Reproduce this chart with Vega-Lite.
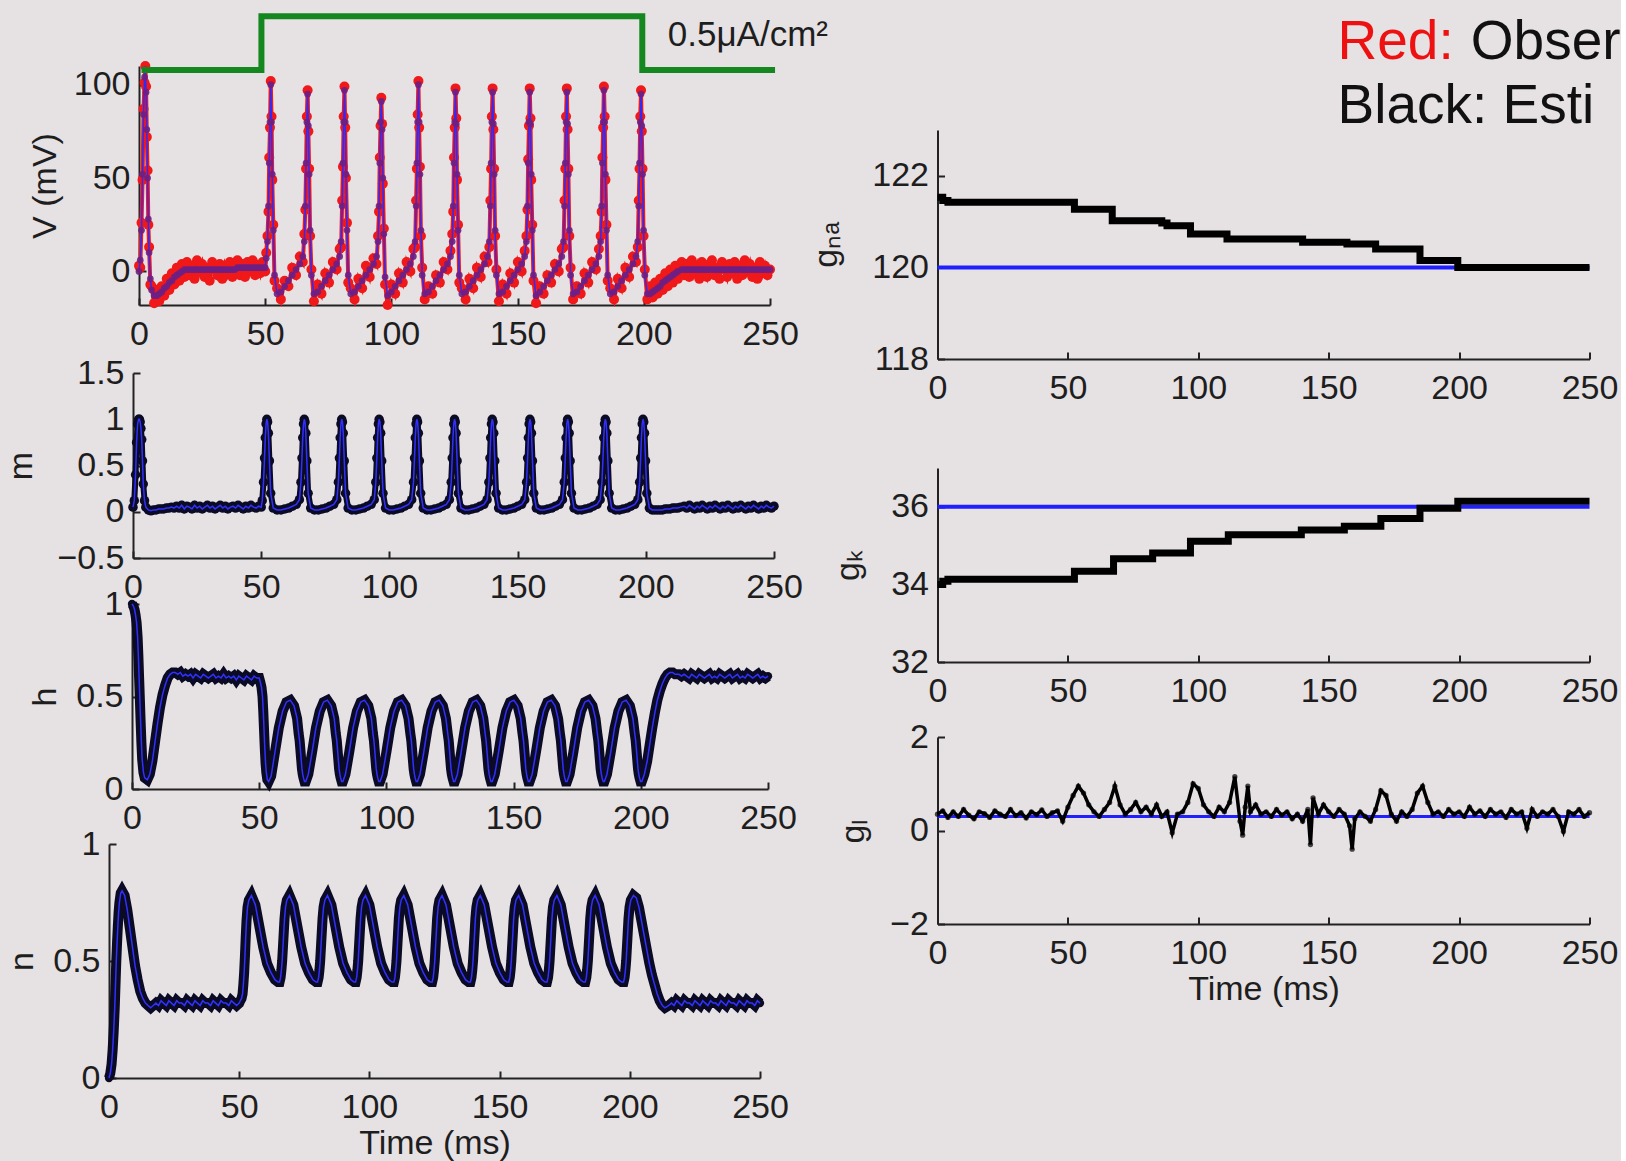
{
"$schema":"https://vega.github.io/schema/vega-lite/v6.json",
"background":"#e6e1e3",
"padding":{"left":4,"top":4,"right":0,"bottom":5},
"config":{"view":{"stroke":null},"font":"Liberation Sans",
"axis":{"grid":false,"domainColor":"#222","domainWidth":2,"tickColor":"#222","tickWidth":2,"tickSize":-7,"labelColor":"#1e1e1e","labelFontSize":34,"labelFont":"Liberation Sans","titleFont":"Liberation Sans","titleFontSize":34,"titleFontWeight":"normal","titleColor":"#1e1e1e","labelFlush":false,"labelOverlap":false},
"axisY":{"labelPadding":16},"axisX":{"labelPadding":19}},
"datasets":{
"d":[
{"t":0,"v":0,"o":3,"m":0.05,"h":1,"n":0},
{"t":0.5,"v":6,"o":2,"m":0.12,"h":0.99,"n":0.02},
{"t":1,"v":22,"o":26,"m":0.4,"h":0.97,"n":0.06},
{"t":1.4,"v":52,"o":49,"m":0.75,"h":0.94,"n":0.12},
{"t":1.8,"v":84,"o":87,"m":0.95,"h":0.9,"n":0.2},
{"t":2.2,"v":104,"o":101,"m":1,"h":0.82,"n":0.3},
{"t":2.5,"v":108,"o":110,"m":1,"h":0.72,"n":0.4},
{"t":2.8,"v":96,"o":99,"m":0.97,"h":0.6,"n":0.5},
{"t":3.1,"v":76,"o":72,"m":0.9,"h":0.48,"n":0.58},
{"t":3.4,"v":50,"o":54,"m":0.78,"h":0.36,"n":0.65},
{"t":3.7,"v":28,"o":25,"m":0.55,"h":0.25,"n":0.71},
{"t":4,"v":10,"o":13,"m":0.3,"h":0.16,"n":0.75},
{"t":4.5,"v":-4,"o":-7,"m":0.12,"h":0.09,"n":0.79},
{"t":5,"v":-10,"o":-8,"m":0.05,"h":0.06,"n":0.8},
{"t":6,"v":-13,"o":-17,"m":0.02,"h":0.05,"n":0.78},
{"t":7,"v":-13,"o":-10,"m":0.01,"h":0.08,"n":0.72},
{"t":8,"v":-12,"o":-16,"m":0.02,"h":0.15,"n":0.64},
{"t":9,"v":-11,"o":-8,"m":0.02,"h":0.25,"n":0.56},
{"t":10,"v":-9,"o":-13,"m":0.03,"h":0.35,"n":0.48},
{"t":11,"v":-8,"o":-4,"m":0.03,"h":0.44,"n":0.42},
{"t":12,"v":-6,"o":-10,"m":0.03,"h":0.51,"n":0.37},
{"t":13,"v":-5,"o":-1,"m":0.04,"h":0.56,"n":0.34},
{"t":14,"v":-3,"o":-7,"m":0.04,"h":0.6,"n":0.32},
{"t":15,"v":-2,"o":2,"m":0.05,"h":0.62,"n":0.31},
{"t":16,"v":-1,"o":-5,"m":0.04,"h":0.63,"n":0.3},
{"t":17,"v":0,"o":4,"m":0.06,"h":0.63,"n":0.31},
{"t":18,"v":1,"o":-3,"m":0.04,"h":0.62,"n":0.32},
{"t":19,"v":1,"o":5,"m":0.07,"h":0.63,"n":0.31},
{"t":20,"v":1,"o":-2,"m":0.03,"h":0.61,"n":0.33},
{"t":21,"v":1,"o":3,"m":0.06,"h":0.62,"n":0.32},
{"t":22,"v":1,"o":-4,"m":0.05,"h":0.61,"n":0.31},
{"t":23,"v":1,"o":6,"m":0.03,"h":0.62,"n":0.33},
{"t":24,"v":1,"o":0,"m":0.07,"h":0.6,"n":0.32},
{"t":25,"v":1,"o":4,"m":0.04,"h":0.62,"n":0.31},
{"t":26,"v":1,"o":-3,"m":0.06,"h":0.61,"n":0.33},
{"t":27,"v":1,"o":2,"m":0.03,"h":0.6,"n":0.32},
{"t":28,"v":1,"o":-5,"m":0.05,"h":0.62,"n":0.32},
{"t":29,"v":1,"o":5,"m":0.07,"h":0.61,"n":0.31},
{"t":30,"v":1,"o":1,"m":0.04,"h":0.6,"n":0.33},
{"t":31,"v":1,"o":-2,"m":0.06,"h":0.61,"n":0.32},
{"t":32,"v":1,"o":4,"m":0.03,"h":0.62,"n":0.31},
{"t":33,"v":1,"o":-4,"m":0.05,"h":0.6,"n":0.33},
{"t":34,"v":1,"o":3,"m":0.07,"h":0.61,"n":0.32},
{"t":35,"v":1,"o":-1,"m":0.04,"h":0.6,"n":0.31},
{"t":36,"v":1,"o":5,"m":0.06,"h":0.62,"n":0.33},
{"t":37,"v":1,"o":-3,"m":0.03,"h":0.6,"n":0.32},
{"t":38,"v":1,"o":2,"m":0.05,"h":0.61,"n":0.32},
{"t":39,"v":2,"o":6,"m":0.06,"h":0.6,"n":0.31},
{"t":40,"v":2,"o":-2,"m":0.04,"h":0.61,"n":0.33},
{"t":41,"v":2,"o":4,"m":0.07,"h":0.59,"n":0.32},
{"t":42,"v":2,"o":-3,"m":0.05,"h":0.61,"n":0.31},
{"t":43,"v":2,"o":5,"m":0.03,"h":0.6,"n":0.33},
{"t":44,"v":2,"o":0,"m":0.06,"h":0.59,"n":0.32},
{"t":45,"v":2,"o":6,"m":0.04,"h":0.61,"n":0.32},
{"t":46,"v":2,"o":-2,"m":0.07,"h":0.6,"n":0.31},
{"t":47,"v":2,"o":3,"m":0.05,"h":0.59,"n":0.33},
{"t":48,"v":2,"o":-1,"m":0.04,"h":0.61,"n":0.32},
{"t":49,"v":2,"o":5,"m":0.06,"h":0.6,"n":0.31},
{"t":50,"v":2,"o":0,"m":0.05,"h":0.6,"n":0.32},
{"t":50.4,"v":7,"o":10,"m":0.12,"h":0.58,"n":0.33},
{"t":50.9,"v":16,"o":19,"m":0.32,"h":0.55,"n":0.34},
{"t":51.3,"v":35,"o":32,"m":0.58,"h":0.5,"n":0.36},
{"t":51.6,"v":58,"o":61,"m":0.8,"h":0.42,"n":0.4},
{"t":51.9,"v":80,"o":77,"m":0.95,"h":0.32,"n":0.45},
{"t":52.2,"v":100,"o":102,"m":1,"h":0.22,"n":0.52},
{"t":52.5,"v":80,"o":83,"m":0.97,"h":0.14,"n":0.6},
{"t":52.8,"v":52,"o":49,"m":0.85,"h":0.09,"n":0.67},
{"t":53.2,"v":22,"o":25,"m":0.55,"h":0.05,"n":0.73},
{"t":53.7,"v":-2,"o":-5,"m":0.2,"h":0.04,"n":0.76},
{"t":54.7,"v":-12,"o":-9,"m":0.04,"h":0.07,"n":0.78},
{"t":56.2,"v":-11,"o":-15,"m":0.02,"h":0.2,"n":0.74},
{"t":57.7,"v":-8,"o":-5,"m":0.02,"h":0.33,"n":0.65},
{"t":59.2,"v":-5,"o":-8,"m":0.03,"h":0.42,"n":0.56},
{"t":60.7,"v":-2,"o":2,"m":0.04,"h":0.47,"n":0.49},
{"t":62.2,"v":1,"o":-2,"m":0.06,"h":0.48,"n":0.45},
{"t":63.7,"v":4,"o":8,"m":0.08,"h":0.45,"n":0.42},
{"t":64.9,"v":8,"o":5,"m":0.13,"h":0.38,"n":0.41},
{"t":65.5,"v":16,"o":20,"m":0.32,"h":0.3,"n":0.41},
{"t":65.9,"v":35,"o":33,"m":0.58,"h":0.26,"n":0.43},
{"t":66.2,"v":58,"o":55,"m":0.8,"h":0.21,"n":0.46},
{"t":66.5,"v":80,"o":83,"m":0.95,"h":0.16,"n":0.5},
{"t":66.8,"v":95,"o":97,"m":1,"h":0.11,"n":0.56},
{"t":67.1,"v":78,"o":75,"m":0.97,"h":0.08,"n":0.62},
{"t":67.4,"v":52,"o":55,"m":0.85,"h":0.06,"n":0.68},
{"t":67.8,"v":22,"o":19,"m":0.55,"h":0.04,"n":0.73},
{"t":68.3,"v":-2,"o":1,"m":0.2,"h":0.04,"n":0.76},
{"t":69.3,"v":-12,"o":-16,"m":0.04,"h":0.08,"n":0.78},
{"t":70.8,"v":-11,"o":-7,"m":0.02,"h":0.2,"n":0.74},
{"t":72.3,"v":-8,"o":-12,"m":0.02,"h":0.33,"n":0.65},
{"t":73.8,"v":-5,"o":-1,"m":0.03,"h":0.42,"n":0.56},
{"t":75.3,"v":-2,"o":-6,"m":0.04,"h":0.47,"n":0.49},
{"t":76.8,"v":1,"o":5,"m":0.06,"h":0.48,"n":0.45},
{"t":78.3,"v":4,"o":1,"m":0.08,"h":0.45,"n":0.42},
{"t":79.5,"v":8,"o":12,"m":0.13,"h":0.38,"n":0.41},
{"t":80.1,"v":16,"o":13,"m":0.32,"h":0.3,"n":0.41},
{"t":80.5,"v":35,"o":38,"m":0.58,"h":0.26,"n":0.43},
{"t":80.8,"v":58,"o":56,"m":0.8,"h":0.21,"n":0.46},
{"t":81.1,"v":80,"o":83,"m":0.95,"h":0.16,"n":0.5},
{"t":81.4,"v":97,"o":99,"m":1,"h":0.11,"n":0.56},
{"t":81.7,"v":80,"o":77,"m":0.97,"h":0.08,"n":0.62},
{"t":82,"v":52,"o":50,"m":0.85,"h":0.06,"n":0.68},
{"t":82.4,"v":22,"o":26,"m":0.55,"h":0.04,"n":0.73},
{"t":82.9,"v":-2,"o":-6,"m":0.2,"h":0.04,"n":0.76},
{"t":83.9,"v":-12,"o":-9,"m":0.04,"h":0.08,"n":0.78},
{"t":85.4,"v":-11,"o":-15,"m":0.02,"h":0.2,"n":0.74},
{"t":86.9,"v":-8,"o":-4,"m":0.02,"h":0.33,"n":0.65},
{"t":88.4,"v":-5,"o":-9,"m":0.03,"h":0.42,"n":0.56},
{"t":89.9,"v":-2,"o":3,"m":0.04,"h":0.47,"n":0.49},
{"t":91.4,"v":1,"o":-3,"m":0.06,"h":0.48,"n":0.45},
{"t":92.9,"v":4,"o":7,"m":0.08,"h":0.45,"n":0.42},
{"t":94.1,"v":8,"o":4,"m":0.13,"h":0.38,"n":0.41},
{"t":94.7,"v":16,"o":19,"m":0.32,"h":0.3,"n":0.41},
{"t":95.1,"v":35,"o":32,"m":0.58,"h":0.26,"n":0.43},
{"t":95.4,"v":58,"o":61,"m":0.8,"h":0.21,"n":0.46},
{"t":95.7,"v":80,"o":78,"m":0.95,"h":0.16,"n":0.5},
{"t":96,"v":91,"o":93,"m":1,"h":0.11,"n":0.56},
{"t":96.3,"v":76,"o":79,"m":0.97,"h":0.08,"n":0.62},
{"t":96.6,"v":50,"o":47,"m":0.85,"h":0.06,"n":0.68},
{"t":97,"v":20,"o":23,"m":0.55,"h":0.04,"n":0.73},
{"t":97.5,"v":-3,"o":-7,"m":0.2,"h":0.04,"n":0.76},
{"t":98.5,"v":-13,"o":-18,"m":0.04,"h":0.08,"n":0.78},
{"t":100,"v":-11,"o":-7,"m":0.02,"h":0.2,"n":0.74},
{"t":101.5,"v":-8,"o":-12,"m":0.02,"h":0.33,"n":0.65},
{"t":103,"v":-5,"o":-1,"m":0.03,"h":0.42,"n":0.56},
{"t":104.5,"v":-2,"o":-6,"m":0.04,"h":0.47,"n":0.49},
{"t":106,"v":1,"o":5,"m":0.06,"h":0.48,"n":0.45},
{"t":107.5,"v":4,"o":0,"m":0.08,"h":0.45,"n":0.42},
{"t":108.7,"v":8,"o":12,"m":0.13,"h":0.38,"n":0.41},
{"t":109.4,"v":16,"o":13,"m":0.32,"h":0.3,"n":0.41},
{"t":109.8,"v":35,"o":38,"m":0.58,"h":0.26,"n":0.43},
{"t":110.1,"v":58,"o":55,"m":0.8,"h":0.21,"n":0.46},
{"t":110.4,"v":80,"o":84,"m":0.95,"h":0.16,"n":0.5},
{"t":110.7,"v":100,"o":102,"m":1,"h":0.11,"n":0.56},
{"t":111,"v":80,"o":77,"m":0.97,"h":0.08,"n":0.62},
{"t":111.3,"v":52,"o":56,"m":0.85,"h":0.06,"n":0.68},
{"t":111.7,"v":22,"o":19,"m":0.55,"h":0.04,"n":0.73},
{"t":112.2,"v":-2,"o":2,"m":0.2,"h":0.04,"n":0.76},
{"t":113.2,"v":-12,"o":-15,"m":0.04,"h":0.08,"n":0.78},
{"t":114.7,"v":-11,"o":-8,"m":0.02,"h":0.2,"n":0.74},
{"t":116.2,"v":-8,"o":-12,"m":0.02,"h":0.33,"n":0.65},
{"t":117.7,"v":-5,"o":-2,"m":0.03,"h":0.42,"n":0.56},
{"t":119.2,"v":-2,"o":-6,"m":0.04,"h":0.47,"n":0.49},
{"t":120.7,"v":1,"o":5,"m":0.06,"h":0.48,"n":0.45},
{"t":122.2,"v":4,"o":1,"m":0.08,"h":0.45,"n":0.42},
{"t":123.4,"v":8,"o":11,"m":0.13,"h":0.38,"n":0.41},
{"t":124.1,"v":16,"o":20,"m":0.32,"h":0.3,"n":0.41},
{"t":124.5,"v":35,"o":32,"m":0.58,"h":0.26,"n":0.43},
{"t":124.8,"v":58,"o":61,"m":0.8,"h":0.21,"n":0.46},
{"t":125.1,"v":80,"o":77,"m":0.95,"h":0.16,"n":0.5},
{"t":125.4,"v":96,"o":98,"m":1,"h":0.11,"n":0.56},
{"t":125.7,"v":79,"o":82,"m":0.97,"h":0.08,"n":0.62},
{"t":126,"v":52,"o":49,"m":0.85,"h":0.06,"n":0.68},
{"t":126.4,"v":22,"o":25,"m":0.55,"h":0.04,"n":0.73},
{"t":126.9,"v":-2,"o":-6,"m":0.2,"h":0.04,"n":0.76},
{"t":127.9,"v":-12,"o":-9,"m":0.04,"h":0.08,"n":0.78},
{"t":129.4,"v":-11,"o":-15,"m":0.02,"h":0.2,"n":0.74},
{"t":130.9,"v":-8,"o":-4,"m":0.02,"h":0.33,"n":0.65},
{"t":132.4,"v":-5,"o":-9,"m":0.03,"h":0.42,"n":0.56},
{"t":133.9,"v":-2,"o":2,"m":0.04,"h":0.47,"n":0.49},
{"t":135.4,"v":1,"o":-3,"m":0.06,"h":0.48,"n":0.45},
{"t":136.9,"v":4,"o":8,"m":0.08,"h":0.45,"n":0.42},
{"t":138.1,"v":8,"o":5,"m":0.13,"h":0.38,"n":0.41},
{"t":138.8,"v":16,"o":13,"m":0.32,"h":0.3,"n":0.41},
{"t":139.2,"v":35,"o":38,"m":0.58,"h":0.26,"n":0.43},
{"t":139.5,"v":58,"o":55,"m":0.8,"h":0.21,"n":0.46},
{"t":139.8,"v":80,"o":83,"m":0.95,"h":0.16,"n":0.5},
{"t":140.1,"v":96,"o":98,"m":1,"h":0.11,"n":0.56},
{"t":140.4,"v":79,"o":76,"m":0.97,"h":0.08,"n":0.62},
{"t":140.7,"v":52,"o":55,"m":0.85,"h":0.06,"n":0.68},
{"t":141.1,"v":22,"o":19,"m":0.55,"h":0.04,"n":0.73},
{"t":141.6,"v":-2,"o":1,"m":0.2,"h":0.04,"n":0.76},
{"t":142.6,"v":-12,"o":-16,"m":0.04,"h":0.08,"n":0.78},
{"t":144.1,"v":-11,"o":-7,"m":0.02,"h":0.2,"n":0.74},
{"t":145.6,"v":-8,"o":-12,"m":0.02,"h":0.33,"n":0.65},
{"t":147.1,"v":-5,"o":-1,"m":0.03,"h":0.42,"n":0.56},
{"t":148.6,"v":-2,"o":-6,"m":0.04,"h":0.47,"n":0.49},
{"t":150.1,"v":1,"o":5,"m":0.06,"h":0.48,"n":0.45},
{"t":151.6,"v":4,"o":0,"m":0.08,"h":0.45,"n":0.42},
{"t":152.8,"v":8,"o":11,"m":0.13,"h":0.38,"n":0.41},
{"t":153.5,"v":16,"o":19,"m":0.32,"h":0.3,"n":0.41},
{"t":153.9,"v":35,"o":33,"m":0.58,"h":0.26,"n":0.43},
{"t":154.2,"v":58,"o":60,"m":0.8,"h":0.21,"n":0.46},
{"t":154.5,"v":80,"o":78,"m":0.95,"h":0.16,"n":0.5},
{"t":154.8,"v":96,"o":98,"m":1,"h":0.11,"n":0.56},
{"t":155.1,"v":79,"o":82,"m":0.97,"h":0.08,"n":0.62},
{"t":155.4,"v":52,"o":49,"m":0.85,"h":0.06,"n":0.68},
{"t":155.8,"v":22,"o":25,"m":0.55,"h":0.04,"n":0.73},
{"t":156.3,"v":-2,"o":-5,"m":0.2,"h":0.04,"n":0.76},
{"t":157.3,"v":-13,"o":-17,"m":0.04,"h":0.08,"n":0.78},
{"t":158.8,"v":-11,"o":-8,"m":0.02,"h":0.2,"n":0.74},
{"t":160.3,"v":-8,"o":-12,"m":0.02,"h":0.33,"n":0.65},
{"t":161.8,"v":-5,"o":-2,"m":0.03,"h":0.42,"n":0.56},
{"t":163.3,"v":-2,"o":-6,"m":0.04,"h":0.47,"n":0.49},
{"t":164.8,"v":1,"o":4,"m":0.06,"h":0.48,"n":0.45},
{"t":166.3,"v":4,"o":0,"m":0.08,"h":0.45,"n":0.42},
{"t":167.5,"v":8,"o":12,"m":0.13,"h":0.38,"n":0.41},
{"t":168.2,"v":16,"o":13,"m":0.32,"h":0.3,"n":0.41},
{"t":168.6,"v":35,"o":38,"m":0.58,"h":0.26,"n":0.43},
{"t":168.9,"v":58,"o":55,"m":0.8,"h":0.21,"n":0.46},
{"t":169.2,"v":80,"o":83,"m":0.95,"h":0.16,"n":0.5},
{"t":169.5,"v":96,"o":98,"m":1,"h":0.11,"n":0.56},
{"t":169.8,"v":79,"o":76,"m":0.97,"h":0.08,"n":0.62},
{"t":170.1,"v":52,"o":55,"m":0.85,"h":0.06,"n":0.68},
{"t":170.5,"v":22,"o":19,"m":0.55,"h":0.04,"n":0.73},
{"t":171,"v":-2,"o":2,"m":0.2,"h":0.04,"n":0.76},
{"t":172,"v":-12,"o":-15,"m":0.04,"h":0.08,"n":0.78},
{"t":173.5,"v":-11,"o":-8,"m":0.02,"h":0.2,"n":0.74},
{"t":175,"v":-8,"o":-12,"m":0.02,"h":0.33,"n":0.65},
{"t":176.5,"v":-5,"o":-1,"m":0.03,"h":0.42,"n":0.56},
{"t":178,"v":-2,"o":-6,"m":0.04,"h":0.47,"n":0.49},
{"t":179.5,"v":1,"o":5,"m":0.06,"h":0.48,"n":0.45},
{"t":181,"v":4,"o":1,"m":0.08,"h":0.45,"n":0.42},
{"t":182.2,"v":8,"o":12,"m":0.13,"h":0.38,"n":0.41},
{"t":182.9,"v":16,"o":19,"m":0.32,"h":0.3,"n":0.41},
{"t":183.3,"v":35,"o":32,"m":0.58,"h":0.26,"n":0.43},
{"t":183.6,"v":58,"o":61,"m":0.8,"h":0.21,"n":0.46},
{"t":183.9,"v":80,"o":77,"m":0.95,"h":0.16,"n":0.5},
{"t":184.2,"v":97,"o":99,"m":1,"h":0.11,"n":0.56},
{"t":184.5,"v":80,"o":83,"m":0.97,"h":0.08,"n":0.62},
{"t":184.8,"v":52,"o":49,"m":0.85,"h":0.06,"n":0.68},
{"t":185.2,"v":22,"o":25,"m":0.55,"h":0.04,"n":0.73},
{"t":185.7,"v":-2,"o":-5,"m":0.2,"h":0.04,"n":0.76},
{"t":186.7,"v":-12,"o":-9,"m":0.04,"h":0.08,"n":0.78},
{"t":188.2,"v":-11,"o":-15,"m":0.02,"h":0.2,"n":0.74},
{"t":189.7,"v":-8,"o":-4,"m":0.02,"h":0.33,"n":0.65},
{"t":191.2,"v":-5,"o":-9,"m":0.03,"h":0.42,"n":0.56},
{"t":192.7,"v":-2,"o":2,"m":0.04,"h":0.47,"n":0.49},
{"t":194.2,"v":1,"o":-3,"m":0.06,"h":0.48,"n":0.45},
{"t":195.7,"v":4,"o":8,"m":0.08,"h":0.45,"n":0.42},
{"t":196.9,"v":8,"o":5,"m":0.13,"h":0.38,"n":0.41},
{"t":197.6,"v":16,"o":13,"m":0.32,"h":0.3,"n":0.41},
{"t":198,"v":35,"o":38,"m":0.58,"h":0.26,"n":0.43},
{"t":198.3,"v":58,"o":55,"m":0.8,"h":0.21,"n":0.46},
{"t":198.6,"v":80,"o":83,"m":0.95,"h":0.16,"n":0.5},
{"t":198.9,"v":95,"o":97,"m":1,"h":0.11,"n":0.56},
{"t":199.2,"v":78,"o":75,"m":0.97,"h":0.08,"n":0.62},
{"t":199.5,"v":52,"o":55,"m":0.85,"h":0.06,"n":0.68},
{"t":199.9,"v":22,"o":19,"m":0.55,"h":0.04,"n":0.73},
{"t":200.4,"v":-2,"o":1,"m":0.2,"h":0.04,"n":0.76},
{"t":201.4,"v":-12,"o":-15,"m":0.04,"h":0.08,"n":0.78},
{"t":202.5,"v":-12,"o":-8,"m":0.02,"h":0.15,"n":0.77},
{"t":203.5,"v":-11,"o":-14,"m":0.02,"h":0.24,"n":0.73},
{"t":204.5,"v":-10,"o":-6,"m":0.02,"h":0.33,"n":0.67},
{"t":205.5,"v":-9,"o":-12,"m":0.02,"h":0.41,"n":0.61},
{"t":206.5,"v":-8,"o":-4,"m":0.02,"h":0.48,"n":0.55},
{"t":207.5,"v":-6,"o":-10,"m":0.03,"h":0.53,"n":0.49},
{"t":208.5,"v":-5,"o":-1,"m":0.03,"h":0.57,"n":0.44},
{"t":209.5,"v":-4,"o":-8,"m":0.03,"h":0.6,"n":0.4},
{"t":210.5,"v":-3,"o":1,"m":0.04,"h":0.62,"n":0.36},
{"t":211.5,"v":-2,"o":-6,"m":0.04,"h":0.63,"n":0.33},
{"t":212.5,"v":-1,"o":3,"m":0.04,"h":0.63,"n":0.31},
{"t":213.5,"v":0,"o":-4,"m":0.05,"h":0.62,"n":0.3},
{"t":215,"v":1,"o":5,"m":0.06,"h":0.62,"n":0.31},
{"t":216,"v":1,"o":-2,"m":0.04,"h":0.61,"n":0.32},
{"t":217,"v":1,"o":4,"m":0.07,"h":0.62,"n":0.31},
{"t":218,"v":1,"o":-3,"m":0.05,"h":0.61,"n":0.33},
{"t":219,"v":1,"o":6,"m":0.03,"h":0.6,"n":0.32},
{"t":220,"v":1,"o":-1,"m":0.06,"h":0.62,"n":0.31},
{"t":221,"v":1,"o":3,"m":0.04,"h":0.61,"n":0.33},
{"t":222,"v":1,"o":-4,"m":0.07,"h":0.6,"n":0.32},
{"t":223,"v":1,"o":5,"m":0.05,"h":0.62,"n":0.32},
{"t":224,"v":1,"o":0,"m":0.03,"h":0.61,"n":0.31},
{"t":225,"v":1,"o":-3,"m":0.06,"h":0.6,"n":0.33},
{"t":226,"v":1,"o":4,"m":0.04,"h":0.61,"n":0.32},
{"t":227,"v":1,"o":6,"m":0.07,"h":0.62,"n":0.31},
{"t":228,"v":1,"o":-2,"m":0.05,"h":0.6,"n":0.33},
{"t":229,"v":1,"o":2,"m":0.03,"h":0.61,"n":0.32},
{"t":230,"v":1,"o":-4,"m":0.06,"h":0.6,"n":0.31},
{"t":231,"v":1,"o":5,"m":0.04,"h":0.62,"n":0.33},
{"t":232,"v":1,"o":1,"m":0.07,"h":0.61,"n":0.32},
{"t":233,"v":1,"o":-3,"m":0.05,"h":0.6,"n":0.32},
{"t":234,"v":1,"o":4,"m":0.03,"h":0.61,"n":0.31},
{"t":235,"v":1,"o":-1,"m":0.06,"h":0.62,"n":0.33},
{"t":236,"v":1,"o":5,"m":0.04,"h":0.6,"n":0.32},
{"t":237,"v":1,"o":-4,"m":0.07,"h":0.61,"n":0.31},
{"t":238,"v":1,"o":3,"m":0.05,"h":0.62,"n":0.33},
{"t":239,"v":1,"o":-2,"m":0.03,"h":0.6,"n":0.32},
{"t":240,"v":1,"o":6,"m":0.06,"h":0.61,"n":0.32},
{"t":241,"v":1,"o":0,"m":0.04,"h":0.6,"n":0.31},
{"t":242,"v":1,"o":4,"m":0.07,"h":0.62,"n":0.33},
{"t":243,"v":1,"o":-3,"m":0.05,"h":0.61,"n":0.32},
{"t":244,"v":1,"o":2,"m":0.03,"h":0.6,"n":0.31},
{"t":245,"v":1,"o":-4,"m":0.06,"h":0.61,"n":0.33},
{"t":246,"v":1,"o":5,"m":0.04,"h":0.62,"n":0.32},
{"t":247,"v":1,"o":-1,"m":0.07,"h":0.6,"n":0.32},
{"t":248,"v":1,"o":3,"m":0.05,"h":0.61,"n":0.31},
{"t":249,"v":1,"o":-2,"m":0.04,"h":0.6,"n":0.33},
{"t":250,"v":1,"o":1,"m":0.06,"h":0.61,"n":0.32}
],
"stim":[{"t":1,"i":0},{"t":48.5,"i":0.5},{"t":199.4,"i":0},{"t":252,"i":0}],
"gna":[{"t":0,"na":121.53},{"t":2,"na":121.46},{"t":4,"na":121.42},{"t":52.5,"na":121.27},{"t":67,"na":121.02},{"t":86,"na":120.97},{"t":88,"na":120.91},{"t":97,"na":120.73},{"t":111,"na":120.62},{"t":140,"na":120.55},{"t":157,"na":120.51},{"t":168,"na":120.4},{"t":185,"na":120.15},{"t":199.5,"na":120},{"t":250,"na":120}],
"gk":[{"t":0,"k":34.0},{"t":2,"k":34.08},{"t":4,"k":34.13},{"t":52.5,"k":34.34},{"t":67.5,"k":34.66},{"t":82.5,"k":34.81},{"t":97,"k":35.11},{"t":111.5,"k":35.28},{"t":139.5,"k":35.4},{"t":156,"k":35.5},{"t":170,"k":35.7},{"t":185,"k":35.96},{"t":199.5,"k":36.14},{"t":250,"k":36.14}],
"gl":[{"t":0,"l":0.35},{"t":2,"l":0.42},{"t":4,"l":0.28},{"t":6,"l":0.4},{"t":8,"l":0.3},{"t":10,"l":0.45},{"t":12,"l":0.33},{"t":14,"l":0.25},{"t":16,"l":0.4},{"t":18,"l":0.36},{"t":20,"l":0.28},{"t":22,"l":0.42},{"t":24,"l":0.35},{"t":26,"l":0.3},{"t":28,"l":0.45},{"t":30,"l":0.32},{"t":32,"l":0.38},{"t":34,"l":0.27},{"t":36,"l":0.4},{"t":38,"l":0.34},{"t":40,"l":0.44},{"t":42,"l":0.3},{"t":44,"l":0.38},{"t":46,"l":0.42},{"t":48,"l":0.2},{"t":50,"l":0.5},{"t":52,"l":0.75},{"t":54,"l":0.95},{"t":56,"l":0.8},{"t":58,"l":0.55},{"t":60,"l":0.4},{"t":62,"l":0.3},{"t":64,"l":0.45},{"t":66,"l":0.6},{"t":68,"l":0.95},{"t":70,"l":0.55},{"t":72,"l":0.35},{"t":74,"l":0.45},{"t":76,"l":0.6},{"t":78,"l":0.4},{"t":80,"l":0.5},{"t":82,"l":0.35},{"t":84,"l":0.55},{"t":86,"l":0.3},{"t":88,"l":0.4},{"t":90,"l":-0.05},{"t":92,"l":0.35},{"t":94,"l":0.4},{"t":96,"l":0.6},{"t":98,"l":1.0},{"t":100,"l":0.9},{"t":102,"l":0.55},{"t":104,"l":0.4},{"t":106,"l":0.3},{"t":108,"l":0.5},{"t":110,"l":0.4},{"t":112,"l":0.6},{"t":114,"l":1.15},{"t":116,"l":0.2},{"t":117,"l":-0.1},{"t":118,"l":0.5},{"t":119,"l":0.95},{"t":120,"l":0.4},{"t":122,"l":0.55},{"t":124,"l":0.35},{"t":126,"l":0.4},{"t":128,"l":0.3},{"t":130,"l":0.45},{"t":132,"l":0.33},{"t":134,"l":0.4},{"t":136,"l":0.25},{"t":138,"l":0.35},{"t":140,"l":0.2},{"t":142,"l":0.45},{"t":143,"l":-0.3},{"t":144,"l":0.7},{"t":146,"l":0.35},{"t":148,"l":0.55},{"t":150,"l":0.4},{"t":152,"l":0.3},{"t":154,"l":0.45},{"t":156,"l":0.35},{"t":158,"l":0.1},{"t":159,"l":-0.4},{"t":160,"l":0.25},{"t":162,"l":0.4},{"t":164,"l":0.3},{"t":166,"l":0.2},{"t":168,"l":0.45},{"t":170,"l":0.85},{"t":172,"l":0.75},{"t":174,"l":0.35},{"t":176,"l":0.2},{"t":178,"l":0.4},{"t":180,"l":0.3},{"t":182,"l":0.45},{"t":184,"l":0.8},{"t":186,"l":0.95},{"t":188,"l":0.6},{"t":190,"l":0.35},{"t":192,"l":0.4},{"t":194,"l":0.3},{"t":196,"l":0.45},{"t":198,"l":0.35},{"t":200,"l":0.4},{"t":202,"l":0.3},{"t":204,"l":0.5},{"t":206,"l":0.35},{"t":208,"l":0.42},{"t":210,"l":0.3},{"t":212,"l":0.45},{"t":214,"l":0.35},{"t":216,"l":0.4},{"t":218,"l":0.28},{"t":220,"l":0.45},{"t":222,"l":0.35},{"t":224,"l":0.4},{"t":226,"l":0.05},{"t":228,"l":0.45},{"t":230,"l":0.3},{"t":232,"l":0.4},{"t":234,"l":0.35},{"t":236,"l":0.45},{"t":238,"l":0.3},{"t":240,"l":-0.02},{"t":242,"l":0.4},{"t":244,"l":0.35},{"t":246,"l":0.45},{"t":248,"l":0.3},{"t":250,"l":0.38}]
},
"bounds":"flush",
"spacing":828.5,
"hconcat":[
{"bounds":"flush","spacing":0,"vconcat":[
 {"bounds":"flush","spacing":0,"hconcat":[
  {"width":29.5,"height":1,"data":{"values":[]},"mark":"rect","encoding":{}},
  {"width":631,"height":239,"resolve":{"scale":{"y":"independent"}},"layer":[
   {"data":{"name":"d"},"layer":[
    {"mark":{"type":"line","color":"#f01818","strokeWidth":4},"encoding":{"x":{"field":"t","type":"quantitative","scale":{"domain":[0,250],"nice":false},"axis":{"values":[0,50,100,150,200,250],"format":"d","title":null}},"y":{"field":"o","type":"quantitative","scale":{"domain":[-18,110],"nice":false},"axis":{"values":[0,50,100],"format":"d","title":"V (mV)","titlePadding":11}}}},
    {"mark":{"type":"point","filled":true,"size":100,"color":"#f01818","opacity":1},"encoding":{"x":{"field":"t","type":"quantitative","scale":{"domain":[0,250],"nice":false}},"y":{"field":"o","type":"quantitative","scale":{"domain":[-18,110],"nice":false}}}},
    {"mark":{"type":"line","color":"#2b2bff","strokeWidth":1.5},"encoding":{"x":{"field":"t","type":"quantitative","scale":{"domain":[0,250],"nice":false}},"y":{"field":"v","type":"quantitative","scale":{"domain":[-18,110],"nice":false}}}},
    {"mark":{"type":"point","filled":true,"size":45,"color":"#6d1f84","opacity":0.9},"encoding":{"x":{"field":"t","type":"quantitative","scale":{"domain":[0,250],"nice":false}},"y":{"field":"v","type":"quantitative","scale":{"domain":[-18,110],"nice":false}}}}
   ]},
   {"layer":[
    {"data":{"name":"stim"},"mark":{"type":"line","color":"#14871f","strokeWidth":6,"interpolate":"step-after"},"encoding":{"x":{"field":"t","type":"quantitative","scale":{"domain":[0,250],"nice":false}},"y":{"field":"i","type":"quantitative","scale":{"domain":[-2.178,0.038],"nice":false,"zero":false},"axis":null}}},
    {"data":{"values":[{}]},"mark":{"type":"text","text":"0.5μA/cm²","align":"left","baseline":"middle","fontSize":35,"color":"#1e1e1e","font":"Liberation Sans"},"encoding":{"x":{"datum":209.5,"type":"quantitative","scale":{"domain":[0,250],"nice":false}},"y":{"datum":0.3265,"type":"quantitative","scale":{"domain":[-2.178,0.038],"nice":false,"zero":false}}}}
   ]}
  ]}
 ]},
 {"width":1,"height":307,"data":{"values":[]},"mark":"rect","encoding":{}},
 {"bounds":"flush","spacing":0,"hconcat":[
  {"width":23.8,"height":1,"data":{"values":[]},"mark":"rect","encoding":{}},
  {"width":641,"height":185,"data":{"name":"d"},"layer":[
   {"mark":{"type":"line","color":"#0b0b26","strokeWidth":6},"encoding":{"x":{"field":"t","type":"quantitative","scale":{"domain":[0,250],"nice":false},"axis":{"values":[0,50,100,150,200,250],"format":"d","title":null}},"y":{"field":"m","type":"quantitative","scale":{"domain":[-0.5,1.5],"nice":false,"zero":false},"axis":{"values":[-0.5,0,0.5,1,1.5],"format":".1~f","title":"m","titlePadding":18}}}},
   {"mark":{"type":"point","filled":true,"size":90,"color":"#0b0b26","opacity":1},"encoding":{"x":{"field":"t","type":"quantitative","scale":{"domain":[0,250],"nice":false}},"y":{"field":"m","type":"quantitative","scale":{"domain":[-0.5,1.5],"nice":false,"zero":false}}}},
   {"mark":{"type":"line","color":"#3030ff","strokeWidth":1.5},"encoding":{"x":{"field":"t","type":"quantitative","scale":{"domain":[0,250],"nice":false}},"y":{"field":"m","type":"quantitative","scale":{"domain":[-0.5,1.5],"nice":false,"zero":false}}}}
  ]}
 ]},
 {"width":1,"height":231,"data":{"values":[]},"mark":"rect","encoding":{}},
 {"bounds":"flush","spacing":0,"hconcat":[
  {"width":22.8,"height":1,"data":{"values":[]},"mark":"rect","encoding":{}},
  {"width":636,"height":185,"data":{"name":"d"},"layer":[
   {"mark":{"type":"line","color":"#0b0b26","strokeWidth":10},"encoding":{"x":{"field":"t","type":"quantitative","scale":{"domain":[0,250],"nice":false},"axis":{"values":[0,50,100,150,200,250],"format":"d","title":null}},"y":{"field":"h","type":"quantitative","scale":{"domain":[0,1],"nice":false},"axis":{"values":[0,0.5,1],"format":".1~f","title":"h","titlePadding":13}}}},
   {"mark":{"type":"point","filled":true,"size":70,"color":"#0b0b26","opacity":1},"encoding":{"x":{"field":"t","type":"quantitative","scale":{"domain":[0,250],"nice":false}},"y":{"field":"h","type":"quantitative","scale":{"domain":[0,1],"nice":false}}}},
   {"mark":{"type":"line","color":"#3030ff","strokeWidth":1.5},"encoding":{"x":{"field":"t","type":"quantitative","scale":{"domain":[0,250],"nice":false}},"y":{"field":"h","type":"quantitative","scale":{"domain":[0,1],"nice":false}}}}
  ]}
 ]},
 {"width":1,"height":240,"data":{"values":[]},"mark":"rect","encoding":{}},
 {"width":651,"height":234,"data":{"name":"d"},"layer":[
   {"mark":{"type":"line","color":"#0b0b26","strokeWidth":10},"encoding":{"x":{"field":"t","type":"quantitative","scale":{"domain":[0,250],"nice":false},"axis":{"values":[0,50,100,150,200,250],"format":"d","title":"Time (ms)","titlePadding":2}},"y":{"field":"n","type":"quantitative","scale":{"domain":[0,1],"nice":false},"axis":{"values":[0,0.5,1],"format":".1~f","title":"n","titlePadding":13}}}},
   {"mark":{"type":"point","filled":true,"size":70,"color":"#0b0b26","opacity":1},"encoding":{"x":{"field":"t","type":"quantitative","scale":{"domain":[0,250],"nice":false}},"y":{"field":"n","type":"quantitative","scale":{"domain":[0,1],"nice":false}}}},
   {"mark":{"type":"line","color":"#3030ff","strokeWidth":1.5},"encoding":{"x":{"field":"t","type":"quantitative","scale":{"domain":[0,250],"nice":false}},"y":{"field":"n","type":"quantitative","scale":{"domain":[0,1],"nice":false}}}}
 ]}
]},
{"bounds":"flush","spacing":0,"vconcat":[
 {"width":1,"height":64,"data":{"values":[]},"mark":"rect","encoding":{}},
 {"width":652,"height":229,"layer":[
   {"data":{"values":[{}]},"mark":{"type":"rule","color":"#2020ff","strokeWidth":4},"encoding":{"y":{"datum":120,"type":"quantitative","scale":{"domain":[118,123],"nice":false,"zero":false}}}},
   {"data":{"name":"gna"},"mark":{"type":"line","color":"#000000","strokeWidth":7,"interpolate":"step-after"},"encoding":{"x":{"field":"t","type":"quantitative","scale":{"domain":[0,250],"nice":false},"axis":{"values":[0,50,100,150,200,250],"format":"d","title":null}},"y":{"field":"na","type":"quantitative","scale":{"domain":[118,123],"nice":false,"zero":false},"axis":{"values":[118,120,122],"format":"d","title":"gₙₐ","titlePadding":28}}}},
   {"data":{"values":[{}]},"mark":{"type":"text","text":"Red:","align":"left","baseline":"alphabetic","fontSize":55,"color":"#ee1111","font":"Liberation Sans"},"encoding":{"x":{"datum":153.4,"type":"quantitative","scale":{"domain":[0,250],"nice":false}},"y":{"datum":124.55,"type":"quantitative","scale":{"domain":[118,123],"nice":false,"zero":false}}}},
   {"data":{"values":[{}]},"mark":{"type":"text","text":"Observed","align":"left","baseline":"alphabetic","fontSize":55,"color":"#111111","font":"Liberation Sans","limit":151,"ellipsis":"\u200b"},"encoding":{"x":{"datum":204.5,"type":"quantitative","scale":{"domain":[0,250],"nice":false}},"y":{"datum":124.55,"type":"quantitative","scale":{"domain":[118,123],"nice":false,"zero":false}}}},
   {"data":{"values":[{}]},"mark":{"type":"text","text":"Black: Estimated","align":"left","baseline":"alphabetic","fontSize":55,"color":"#111111","font":"Liberation Sans","limit":288,"ellipsis":"\u200b"},"encoding":{"x":{"datum":153.4,"type":"quantitative","scale":{"domain":[0,250],"nice":false}},"y":{"datum":123.15,"type":"quantitative","scale":{"domain":[118,123],"nice":false,"zero":false}}}}
 ]},
 {"width":1,"height":109,"data":{"values":[]},"mark":"rect","encoding":{}},
 {"width":652,"height":194,"layer":[
   {"data":{"values":[{}]},"mark":{"type":"rule","color":"#2020ff","strokeWidth":4},"encoding":{"y":{"datum":36,"type":"quantitative","scale":{"domain":[32,37],"nice":false,"zero":false}}}},
   {"data":{"name":"gk"},"mark":{"type":"line","color":"#000000","strokeWidth":7,"interpolate":"step-after"},"encoding":{"x":{"field":"t","type":"quantitative","scale":{"domain":[0,250],"nice":false},"axis":{"values":[0,50,100,150,200,250],"format":"d","title":null}},"y":{"field":"k","type":"quantitative","scale":{"domain":[32,37],"nice":false,"zero":false},"axis":{"values":[32,34,36],"format":"d","title":"gₖ","titlePadding":25}}}}
 ]},
 {"width":1,"height":75,"data":{"values":[]},"mark":"rect","encoding":{}},
 {"width":652,"height":187,"layer":[
   {"data":{"values":[{}]},"mark":{"type":"rule","color":"#2020ff","strokeWidth":3},"encoding":{"y":{"datum":0.3,"type":"quantitative","scale":{"domain":[-2,2],"nice":false,"zero":false}}}},
   {"data":{"name":"gl"},"mark":{"type":"line","color":"#000000","strokeWidth":3.5},"encoding":{"x":{"field":"t","type":"quantitative","scale":{"domain":[0,250],"nice":false},"axis":{"values":[0,50,100,150,200,250],"format":"d","title":"Time (ms)","titlePadding":2}},"y":{"field":"l","type":"quantitative","scale":{"domain":[-2,2],"nice":false,"zero":false},"axis":{"values":[-2,0,2],"format":"d","title":"gₗ","titlePadding":19}}}},
   {"data":{"name":"gl"},"mark":{"type":"point","filled":true,"size":28,"color":"#000000"},"encoding":{"x":{"field":"t","type":"quantitative","scale":{"domain":[0,250],"nice":false}},"y":{"field":"l","type":"quantitative","scale":{"domain":[-2,2],"nice":false,"zero":false}}}}
 ]}
]}
]
}
